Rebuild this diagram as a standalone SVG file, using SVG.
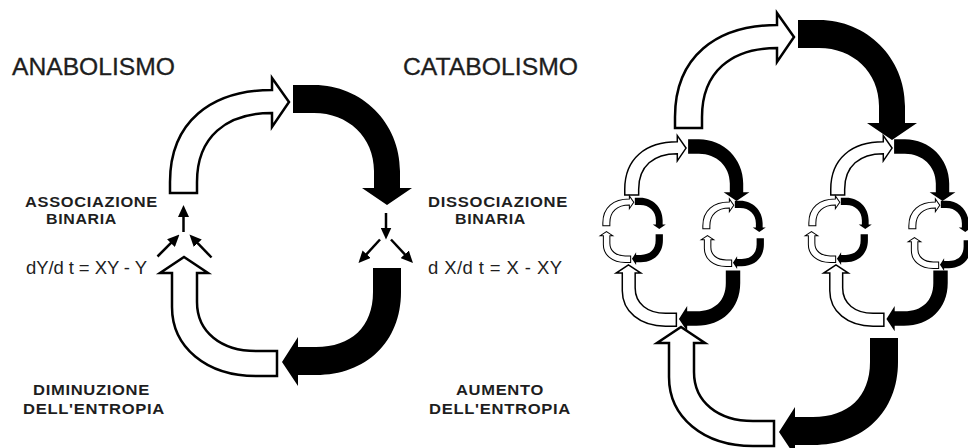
<svg xmlns="http://www.w3.org/2000/svg" width="968" height="448" viewBox="0 0 968 448">
<style>
.w{fill:#fff;stroke:#000;stroke-linejoin:miter;stroke-miterlimit:10}
.b{fill:#000;stroke:none}
.t1{font-family:"Liberation Sans",Arial,sans-serif;font-size:24px;fill:#1e1e1e;stroke:#1e1e1e;stroke-width:0.3}
.t2{font-family:"Liberation Sans",Arial,sans-serif;font-size:14.5px;font-weight:bold;fill:#1e1e1e;letter-spacing:0.6px}
.t3{font-family:"Liberation Sans",Arial,sans-serif;font-size:18.5px;fill:#1e1e1e}
.c{stroke:#000;stroke-width:2.5;fill:none;marker-end:url(#ah)}
.s1{stroke-width:2.5}
.s2{stroke-width:2.9}
.s3{stroke-width:3.9}
</style>
<defs>
<marker id="ah" markerUnits="userSpaceOnUse" markerWidth="12" markerHeight="11" viewBox="0 0 12 11" refX="4" refY="5.5" orient="auto">
<path d="M0,0 L12,5.5 L0,11 Z" fill="#000"/>
</marker>
<g id="top">
<path class="w" d="M -116,-39 L -116,-50 C -116,-110 -75,-142 -14,-142 L -14,-154 L 3,-130 L -14,-105 L -14,-119 C -60,-119 -89,-95 -89,-50 L -89,-39 Z"/>
<path class="b" d="M 7,-147 L 28,-147 C 76,-147 114,-109 114,-61 L 114,-44 L 126,-44 L 101,-27 L 76,-44 L 88,-44 L 88,-61 C 88,-95 62,-119 28,-119 L 7,-119 Z"/>
</g>
<g id="bot">
<path class="b" d="M 87,36 L 115,36 L 115,60 C 115,110 80,143 30,143 L 12,143 L 12,154 L -4,130 L 12,105 L 12,115 L 30,115 C 65,115 87,95 87,60 Z"/>
<path class="w" d="M -9,119 L -9,144 L -30,144 C -80,144 -114,115 -114,75 L -114,41 L -126,41 L -102,25 L -78,41 L -89,41 L -89,70 C -89,100 -65,119 -30,119 Z"/>
</g>
</defs>
<rect width="968" height="448" fill="#fff"/>

<g id="labels">
<text class="t1" x="12" y="75" textLength="163" lengthAdjust="spacingAndGlyphs">ANABOLISMO</text>
<text class="t1" x="403" y="75" textLength="175" lengthAdjust="spacingAndGlyphs">CATABOLISMO</text>
<text class="t2" x="25" y="207" textLength="133" lengthAdjust="spacingAndGlyphs">ASSOCIAZIONE</text>
<text class="t2" x="46" y="224" textLength="71" lengthAdjust="spacingAndGlyphs">BINARIA</text>
<text class="t3" x="26" y="274" textLength="121" lengthAdjust="spacing">dY/d t = XY - Y</text>
<text class="t2" x="428" y="207" textLength="140" lengthAdjust="spacingAndGlyphs">DISSOCIAZIONE</text>
<text class="t2" x="455" y="224" textLength="71" lengthAdjust="spacingAndGlyphs">BINARIA</text>
<text class="t3" x="428" y="274" textLength="134" lengthAdjust="spacing">d X/d t = X - XY</text>
<text class="t2" x="33" y="395" textLength="117" lengthAdjust="spacingAndGlyphs">DIMINUZIONE</text>
<text class="t2" x="23" y="414" textLength="142" lengthAdjust="spacingAndGlyphs">DELL'ENTROPIA</text>
<text class="t2" x="456" y="395" textLength="88" lengthAdjust="spacingAndGlyphs">AUMENTO</text>
<text class="t2" x="429" y="414" textLength="142" lengthAdjust="spacingAndGlyphs">DELL'ENTROPIA</text>
</g>

<g id="cycle-main">
<use href="#top" class="s1" transform="translate(286,232)"/>
<use href="#bot" class="s1" transform="translate(286,232)"/>
</g>

<g id="cycle-large">
<use href="#top" class="s1" transform="translate(791,167)"/>
<use href="#bot" class="s1" transform="translate(783,302)"/>
</g>

<g id="cycle-medium-left">
<use href="#top" class="s2" transform="translate(684.5,215) scale(0.515)"/>
<use href="#bot" class="s2" transform="translate(681,252) scale(0.515)"/>
</g>

<g id="cycle-medium-right">
<use href="#top" class="s2" transform="translate(890.5,215) scale(0.515)"/>
<use href="#bot" class="s2" transform="translate(888.5,252) scale(0.515)"/>
</g>

<g id="cycle-small-1">
<use href="#top" class="s3" transform="translate(633,236) scale(0.26)"/>
<use href="#bot" class="s3" transform="translate(633,225) scale(0.26)"/>
</g>
<g id="cycle-small-2">
<use href="#top" class="s3" transform="translate(733,239) scale(0.26)"/>
<use href="#bot" class="s3" transform="translate(734,229) scale(0.26)"/>
</g>
<g id="cycle-small-3">
<use href="#top" class="s3" transform="translate(839,236) scale(0.26)"/>
<use href="#bot" class="s3" transform="translate(838,225) scale(0.26)"/>
</g>
<g id="cycle-small-4">
<use href="#top" class="s3" transform="translate(939,239) scale(0.26)"/>
<use href="#bot" class="s3" transform="translate(941,231) scale(0.26)"/>
</g>

<g id="connectors">
<line class="c" x1="183.5" y1="232" x2="183.5" y2="213"/>
<line class="c" x1="157.5" y1="256.5" x2="173.8" y2="240.2"/>
<line class="c" x1="211.5" y1="257.5" x2="195" y2="240.3"/>
<line class="c" x1="386" y1="213" x2="386" y2="231.5"/>
<line class="c" x1="380" y1="239.5" x2="363.9" y2="257.1"/>
<line class="c" x1="391" y1="239.5" x2="407.5" y2="257.2"/>
</g>
</svg>
